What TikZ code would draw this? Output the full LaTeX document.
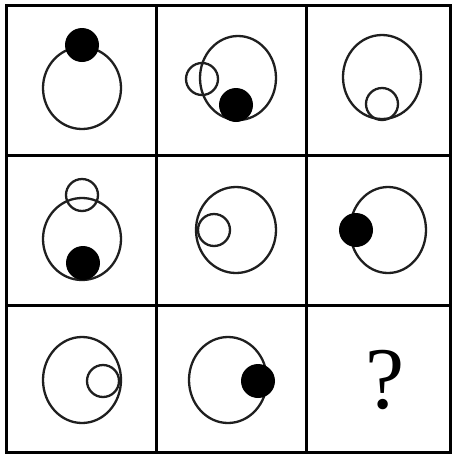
\documentclass[tikz,border=0pt]{standalone}
\usepackage{fontspec}
\newfontfamily\qfont{Liberation Serif}
\begin{document}
\begin{tikzpicture}[x=1pt,y=-1pt,
  gridline/.style={line width=3pt,black},
  ring/.style={line width=2.3pt,black!88},
  dot/.style={fill=black,draw=none}]
\useasboundingbox[fill=white] (0,0) rectangle (454,456);
% grid
\draw[gridline] (6,5) rectangle (450,452);
\draw[gridline] (156,5) -- (156,452);
\draw[gridline] (306,5) -- (306,452);
\draw[gridline] (6,155) -- (450,155);
\draw[gridline] (6,305) -- (450,305);
% cell 1
\draw[ring] (82,88) ellipse [x radius=39,y radius=41];
\fill[dot] (82,45) circle [radius=17];
% cell 2
\draw[ring] (238,78) ellipse [x radius=38,y radius=42];
\draw[ring] (202,79) circle [radius=16];
\fill[dot] (236,105) circle [radius=17];
% cell 3
\draw[ring] (382,77) ellipse [x radius=39,y radius=42];
\draw[ring] (382,104) circle [radius=16];
% cell 4
\draw[ring] (82,239) ellipse [x radius=39,y radius=41];
\draw[ring] (82,195) circle [radius=16];
\fill[dot] (83,263) circle [radius=17];
% cell 5
\draw[ring] (236,230) ellipse [x radius=40,y radius=43];
\draw[ring] (214,230) circle [radius=16];
% cell 6
\draw[ring] (388,230) ellipse [x radius=38,y radius=43];
\fill[dot] (356,230) circle [radius=17];
% cell 7
\draw[ring] (82,380) ellipse [x radius=39,y radius=43];
\draw[ring] (103,381) circle [radius=16];
% cell 8
\draw[ring] (228,380) ellipse [x radius=39,y radius=43];
\fill[dot] (258,381) circle [radius=17];
% cell 9
\node[inner sep=0pt] (q) at (385,380) {\fontsize{88}{88}\qfont ?};
\end{tikzpicture}
\end{document}
